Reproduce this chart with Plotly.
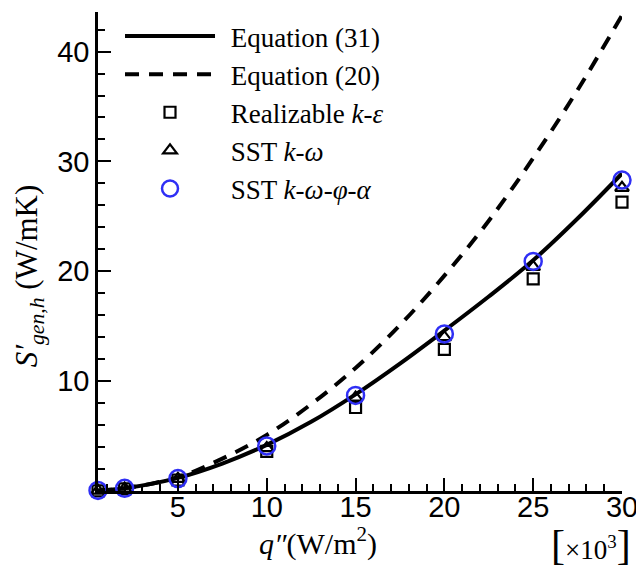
import plotly.graph_objects as go

# Heat flux q'' (x10^3 W/m^2)
q_curve = [0.5, 2, 5, 7.5, 10, 12.5, 15, 17.5, 20, 22.5, 25, 27.5, 30]
eq31 = [0.04, 0.25, 1.2, 2.5, 4.2, 6.3, 8.8, 11.6, 14.6, 17.7, 21.0, 24.8, 28.9]
eq20 = [0.04, 0.25, 1.25, 2.95, 5.1, 7.9, 11.2, 15.1, 19.6, 24.6, 30.3, 36.5, 43.3]

q_pts = [0.5, 2, 5, 10, 15, 20, 25, 30]
realizable = [0.02, 0.2, 1.0, 3.6, 7.6, 12.9, 19.3, 26.3]
sst = [0.03, 0.22, 1.1, 3.9, 8.5, 14.0, 20.4, 27.6]
sst_phi = [0.05, 0.24, 1.13, 4.1, 8.7, 14.3, 20.9, 28.3]

x_ticks = [5, 10, 15, 20, 25, 30]
x_ticktext = ["5", "10", "15", "20", "25", "30"]
y_ticks = [10, 20, 30, 40]

serif = "Liberation Serif"
sans = "Liberation Sans"
sp = "\u2009\u2009"

fig = go.Figure()
fig.add_trace(go.Scatter(x=q_curve, y=eq31, mode="lines", name=sp + "Equation (31)",
                         line=dict(color="black", width=4, shape="spline"),
                         legendgroup="a"))
fig.add_trace(go.Scatter(x=q_curve, y=eq20, mode="lines", name=sp + "Equation (20)",
                         line=dict(color="black", width=4, dash="14px,10px", shape="spline"),
                         legendgroup="b"))
fig.add_trace(go.Scatter(x=q_pts, y=realizable, mode="markers",
                         name=sp + "Realizable <i>k</i>-<i>ε</i>",
                         marker=dict(symbol="square-open", size=11, color="black",
                                     line=dict(width=2.2, color="black")),
                         legendgroup="c", cliponaxis=False))
fig.add_trace(go.Scatter(x=q_pts, y=sst, mode="markers",
                         name=sp + "SST <i>k</i>-<i>ω</i>",
                         marker=dict(symbol="triangle-up-open", size=12, color="black",
                                     line=dict(width=2.2, color="black")),
                         legendgroup="d", cliponaxis=False))
fig.add_trace(go.Scatter(x=q_pts, y=sst_phi, mode="markers",
                         name=sp + "SST <i>k</i>-<i>ω</i>-<i>φ</i>-<i>α</i>",
                         marker=dict(symbol="circle-open", size=17, color="#2f2ff5",
                                     line=dict(width=2.5, color="#2f2ff5")),
                         legendgroup="e", cliponaxis=False))

fig.update_layout(
    width=636, height=570,
    margin=dict(l=98, r=14, t=12, b=79, autoexpand=False),
    paper_bgcolor="white", plot_bgcolor="white",
    showlegend=True,
    legend=dict(x=0.042, y=1.0, xanchor="left", yanchor="top",
                font=dict(family=serif, size=27, color="black"),
                bgcolor="rgba(0,0,0,0)", itemwidth=90, tracegroupgap=7,
                traceorder="normal"),
    xaxis=dict(range=[0.5, 30], tickvals=x_ticks, ticktext=x_ticktext,
               ticks="inside", ticklen=13,
               tickwidth=2, tickcolor="black", showline=True, linewidth=2.5,
               linecolor="black", showgrid=False, zeroline=False, automargin=False,
               ticklabeloverflow="allow", ticklabelstandoff=-12,
               tickfont=dict(family=sans, size=29, color="black"),
               minor=dict(dtick=1, ticks="inside", ticklen=7, tickwidth=1.5,
                          tickcolor="black", showgrid=False)),
    yaxis=dict(range=[0, 43.6], tickvals=y_ticks, ticks="inside", ticklen=13,
               tickwidth=2, tickcolor="black", showline=True, linewidth=2.5,
               linecolor="black", showgrid=False, zeroline=False, automargin=False,
               tickfont=dict(family=sans, size=29, color="black"),
               minor=dict(dtick=2, ticks="inside", ticklen=7, tickwidth=1.5,
                          tickcolor="black", showgrid=False)),
)
fig.add_annotation(text="<i>q″</i>(W/m<sup>2</sup>)", xref="paper", yref="paper",
                   x=0.42, y=-0.105, xanchor="center", yanchor="middle",
                   showarrow=False, font=dict(family=serif, size=30, color="black"))
fig.add_annotation(text="<i>S′</i><sub><i>gen,h</i></sub> (W/mK)", xref="paper", yref="paper",
                   x=-0.13, y=0.45, xanchor="center", yanchor="middle", textangle=-90,
                   showarrow=False, font=dict(family=serif, size=31, color="black"))
fig.add_annotation(text="<span style='font-size:42px'>[</span>×10<sup>3</sup><span style='font-size:42px'>]</span>",
                   xref="paper", yref="paper",
                   x=0.94, y=-0.113, xanchor="center", yanchor="middle",
                   showarrow=False, font=dict(family=serif, size=27, color="black"))

fig.write_html("out.html", config={"displayModeBar": False},
               post_script="document.body.style.margin='0';document.body.style.overflow='hidden';")
